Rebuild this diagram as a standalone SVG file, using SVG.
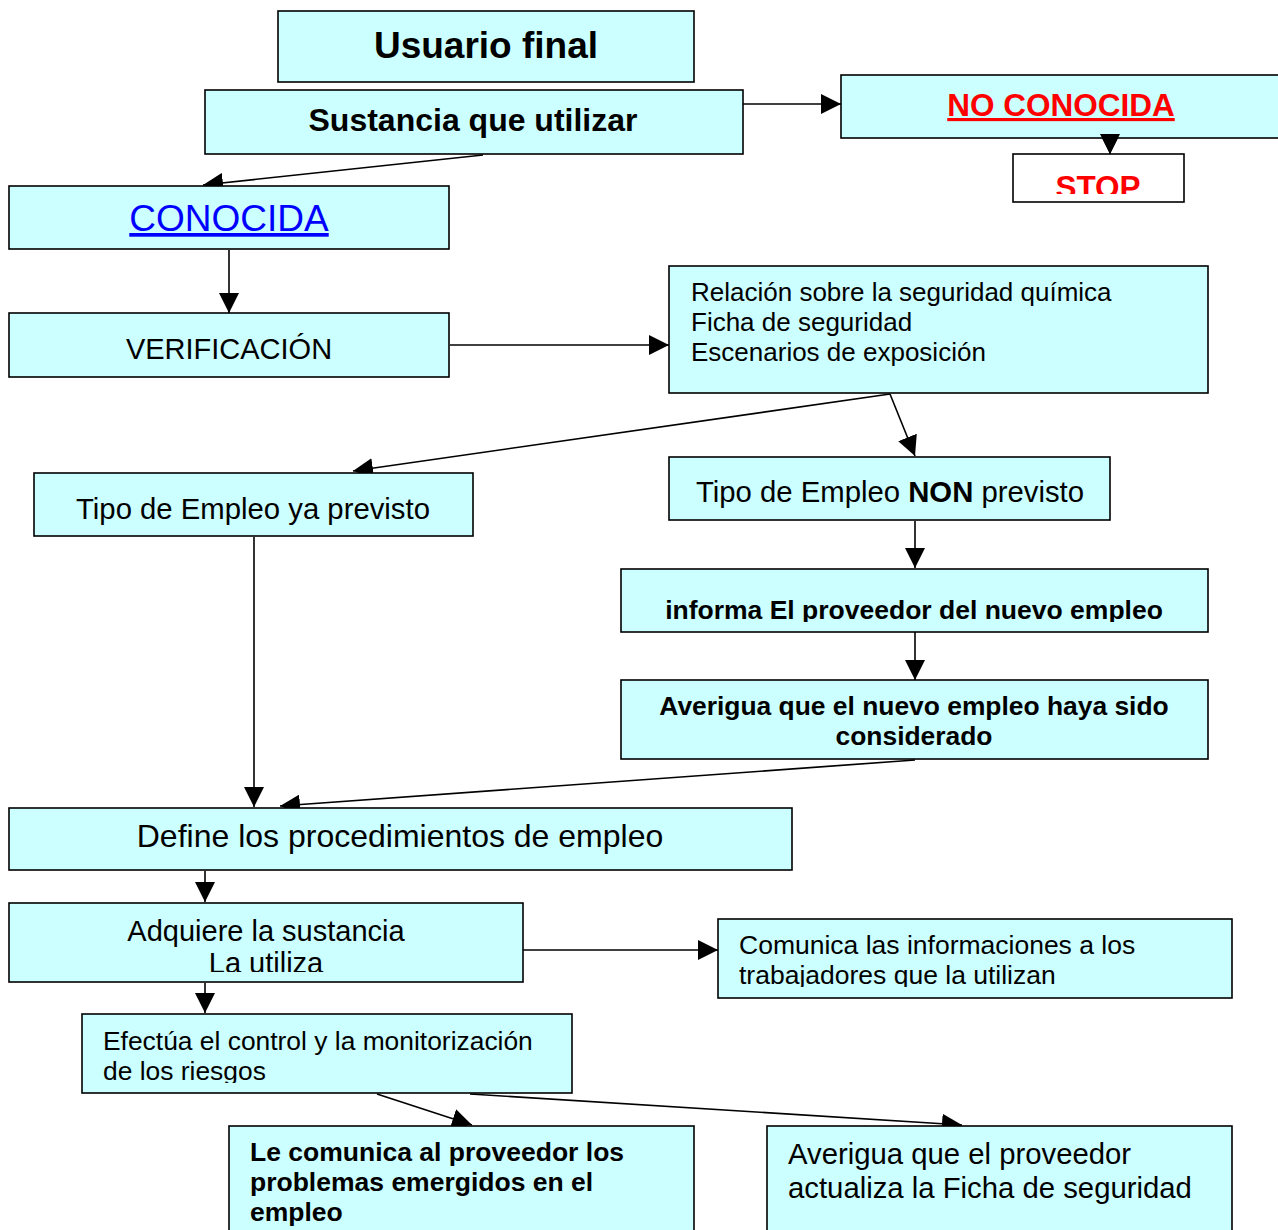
<svg xmlns="http://www.w3.org/2000/svg" width="1278" height="1230" viewBox="0 0 1278 1230">
<style>
.box{fill:#CCFFFF;stroke:#000;stroke-width:1.6}
.wbox{fill:#fff;stroke:#000;stroke-width:1.6}
.t{font-family:"Liberation Sans",Arial,sans-serif;fill:#000}
.b{font-weight:bold}
.c{text-anchor:middle}
.con line{stroke:#000;stroke-width:1.6;fill:none;marker-end:url(#ah)}
</style>
<defs>
<marker id="ah" markerUnits="userSpaceOnUse" markerWidth="20" markerHeight="20" refX="20" refY="10" orient="auto">
<path d="M0,0 L20,10 L0,20 z" fill="#000"/>
</marker>
<clipPath id="cStop"><rect x="1013" y="154" width="171" height="40"/></clipPath>
<clipPath id="cInf"><rect x="621" y="569" width="587" height="53"/></clipPath>
<clipPath id="cAdq"><rect x="9" y="903" width="514" height="69"/></clipPath>
<clipPath id="cCom"><rect x="718" y="919" width="514" height="68"/></clipPath>
<clipPath id="cEfe"><rect x="82" y="1014" width="490" height="69"/></clipPath>
</defs>

<g class="con">
<line x1="743" y1="104" x2="841" y2="104"/>
<line x1="1110" y1="139" x2="1110" y2="154"/>
<line x1="483" y1="155" x2="203" y2="185"/>
<line x1="229" y1="250" x2="229" y2="313"/>
<line x1="450" y1="345" x2="669" y2="345"/>
<line x1="890" y1="394" x2="353" y2="471"/>
<line x1="890" y1="394" x2="915" y2="456"/>
<line x1="915" y1="521" x2="915" y2="568"/>
<line x1="915" y1="632" x2="915" y2="680"/>
<line x1="915" y1="760" x2="280" y2="806"/>
<line x1="254" y1="537" x2="254" y2="807"/>
<line x1="205" y1="871" x2="205" y2="902"/>
<line x1="523" y1="950" x2="718" y2="950"/>
<line x1="205" y1="983" x2="205" y2="1013"/>
<line x1="377" y1="1094" x2="472" y2="1125"/>
<line x1="470" y1="1094" x2="962" y2="1125"/>
</g>

<g id="usuario">
<rect class="box" x="278" y="11" width="416" height="71"/>
<text class="t b c" x="486" y="58" font-size="37">Usuario final</text>
</g>
<g id="sustancia">
<rect class="box" x="205" y="90" width="538" height="64"/>
<text class="t b c" x="473" y="131" font-size="32">Sustancia que utilizar</text>
</g>
<g id="noconocida">
<rect class="box" x="841" y="75" width="445" height="63"/>
<text class="t b c" x="1061" y="116" font-size="31.5" style="fill:#FF0000" text-decoration="underline">NO CONOCIDA</text>
</g>
<g id="nc-arrowhead">
<path d="M1100,134 L1120,134 L1110,154 z" fill="#000"/>
</g>
<g id="stop">
<rect class="wbox" x="1013" y="154" width="171" height="48"/>
<text class="t b c" x="1098" y="198" font-size="31.5" style="fill:#FF0000" clip-path="url(#cStop)">STOP</text>
</g>
<g id="conocida">
<rect class="box" x="9" y="186" width="440" height="63"/>
<text class="t c" x="229" y="231" font-size="37" style="fill:#0000FF" text-decoration="underline">CONOCIDA</text>
</g>
<g id="verificacion">
<rect class="box" x="9" y="313" width="440" height="64"/>
<text class="t c" x="229" y="359" font-size="29">VERIFICACIÓN</text>
</g>
<g id="relacion">
<rect class="box" x="669" y="266" width="539" height="127"/>
<text class="t" x="691" y="301" font-size="26">Relación sobre la seguridad química</text>
<text class="t" x="691" y="331" font-size="26">Ficha de seguridad</text>
<text class="t" x="691" y="361" font-size="26">Escenarios de exposición</text>
</g>
<g id="tipo-ya">
<rect class="box" x="34" y="473" width="439" height="63"/>
<text class="t c" x="253" y="519" font-size="29.3">Tipo de Empleo ya previsto</text>
</g>
<g id="tipo-non">
<rect class="box" x="669" y="457" width="441" height="63"/>
<text class="t c" x="890" y="502" font-size="29.3">Tipo de Empleo <tspan class="b">NON</tspan> previsto</text>
</g>
<g id="informa">
<rect class="box" x="621" y="569" width="587" height="63"/>
<text class="t b c" x="914" y="619" font-size="26.5" clip-path="url(#cInf)">informa El proveedor del nuevo empleo</text>
</g>
<g id="averigua-nuevo">
<rect class="box" x="621" y="680" width="587" height="79"/>
<text class="t b c" x="914" y="715" font-size="26.4">Averigua que el nuevo empleo haya sido</text>
<text class="t b c" x="914" y="745" font-size="26.4">considerado</text>
</g>
<g id="define">
<rect class="box" x="9" y="808" width="783" height="62"/>
<text class="t c" x="400" y="847" font-size="32">Define los procedimientos de empleo</text>
</g>
<g id="adquiere">
<rect class="box" x="9" y="903" width="514" height="79"/>
<g clip-path="url(#cAdq)">
<text class="t c" x="266" y="941" font-size="29">Adquiere la sustancia</text>
<text class="t c" x="266" y="973" font-size="29">La utiliza</text>
</g>
</g>
<g id="comunica">
<rect class="box" x="718" y="919" width="514" height="79"/>
<g clip-path="url(#cCom)">
<text class="t" x="739" y="954" font-size="26.5">Comunica las informaciones a los</text>
<text class="t" x="739" y="984" font-size="26.5">trabajadores que la utilizan</text>
</g>
</g>
<g id="efectua">
<rect class="box" x="82" y="1014" width="490" height="79"/>
<g clip-path="url(#cEfe)">
<text class="t" x="103" y="1050" font-size="26.4">Efectúa el control y la monitorización</text>
<text class="t" x="103" y="1080" font-size="26.4">de los riesgos</text>
</g>
</g>
<g id="le-comunica">
<rect class="box" x="229" y="1126" width="465" height="110"/>
<text class="t b" x="250" y="1161" font-size="26.5">Le comunica al proveedor los</text>
<text class="t b" x="250" y="1191" font-size="26.5">problemas emergidos en el</text>
<text class="t b" x="250" y="1221" font-size="26.5">empleo</text>
</g>
<g id="averigua-prov">
<rect class="box" x="767" y="1126" width="465" height="110"/>
<text class="t" x="788" y="1164" font-size="29.3">Averigua que el proveedor</text>
<text class="t" x="788" y="1198" font-size="29.3">actualiza la Ficha de seguridad</text>
</g>
</svg>
